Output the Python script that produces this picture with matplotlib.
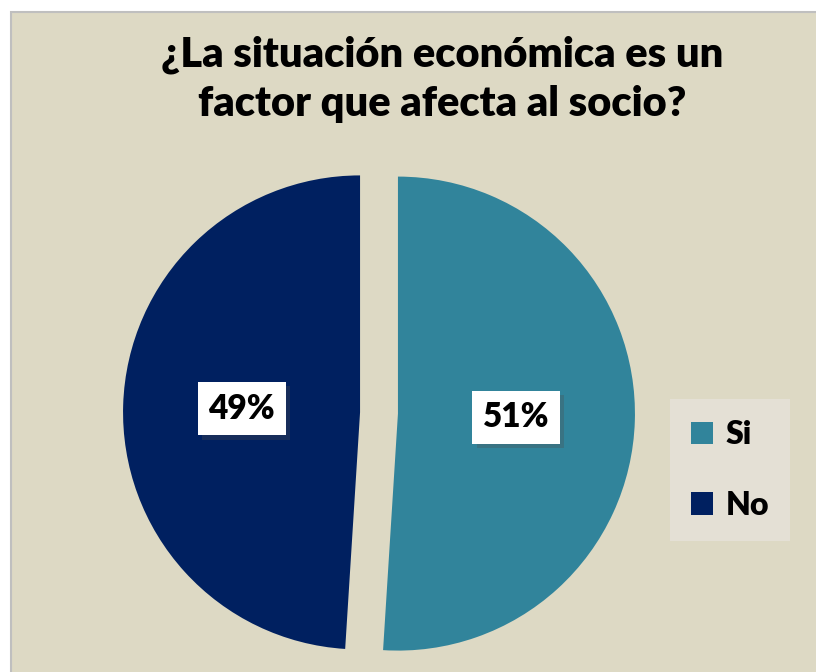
import matplotlib
matplotlib.use("Agg")
import matplotlib.pyplot as plt
from matplotlib.patches import Rectangle
import matplotlib.patheffects as pe

labels = ["Si", "No"]
shares = [51, 49]
colors = ["#31849B", "#002060"]
title = "¿La situación económica es un\nfactor que afecta al socio?"

W, H = 816, 672
fig = plt.figure(figsize=(W / 100, H / 100), dpi=100, facecolor="white")

# chart area background with thin grey border
fig.patches.append(Rectangle((11 / W, -0.1), 1.2, (H - 12) / H + 0.1,
                             transform=fig.transFigure, facecolor="#DDD9C4",
                             edgecolor="#BFBFBF", linewidth=1.5, zorder=-10))

# pie centred at (379, 413) px, radius 237 px
R, cx, cy = 237.0, 379.0, H - 413.0
ax = fig.add_axes([0, 0, 1, 1])
ax.patch.set_visible(False)

wedges, _, autotexts = ax.pie(shares, colors=colors, startangle=90, counterclock=False,
                              explode=[0.08, 0.08], autopct="%d%%", pctdistance=0.5,
                              wedgeprops=dict(linewidth=0))
ax.set_xlim(-cx / R, (W - cx) / R)
ax.set_ylim(-cy / R, (H - cy) / R)
ax.set_aspect("equal")
ax.axis("off")

for t in autotexts:
    t.set_fontsize(24)
    t.set_fontweight("heavy")
    t.set_fontfamily("Lato")
    t.set_color("black")
    t.set_bbox(dict(boxstyle="square,pad=0.32", facecolor="white", edgecolor="none"))
    t.get_bbox_patch().set_path_effects([pe.withSimplePatchShadow(offset=(3, -3), alpha=0.3)])

fig.text(442 / W, 1 - 79 / H, title, ha="center", va="center", fontsize=30,
         fontweight="heavy", family="Lato", linespacing=1.35)

leg = fig.legend(wedges, labels, loc="center", bbox_to_anchor=(730 / W, 1 - 470 / H),
                 prop=dict(family="Lato", weight="heavy", size=23),
                 handlelength=0.7, handleheight=0.7, handletextpad=0.4,
                 labelspacing=1.3, borderpad=0.65, frameon=True, fancybox=False)
leg.get_frame().set_facecolor("#E4E0D5")
leg.get_frame().set_edgecolor("none")
leg.get_frame().set_alpha(1)

fig.savefig("out.png", dpi=100, facecolor="white")
